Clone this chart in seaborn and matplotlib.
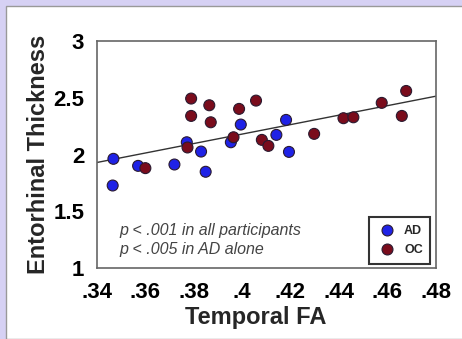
import numpy as np
import pandas as pd
import seaborn as sns
import matplotlib.pyplot as plt
from matplotlib.patches import Rectangle
from matplotlib.ticker import MultipleLocator, FuncFormatter

# values
ad_fa = [.3469, .3466, .3571, .3721, .3772, .3831, .3850, .3954, .3995, .4142, .4182, .4194]
ad_thick = [1.962, 1.727, 1.900, 1.912, 2.108, 2.026, 1.848, 2.108, 2.264, 2.173, 2.305, 2.023]
oc_fa = [.3601, .3775, .3790, .3790, .3865, .3871, .3965, .3988, .4058, .4082, .4109,
         .4298, .4419, .4460, .4577, .4660, .4678]
oc_thick = [1.880, 2.062, 2.493, 2.340, 2.434, 2.284, 2.152, 2.402, 2.475, 2.129, 2.076,
            2.182, 2.320, 2.328, 2.455, 2.340, 2.560]
x_ticks = [.34, .36, .38, .40, .42, .44, .46, .48]
y_ticks = [1, 1.5, 2, 2.5, 3]
notes = ["p < .001 in all participants", "p < .005 in AD alone"]

df = pd.DataFrame({
    "fa": ad_fa + oc_fa,
    "thick": ad_thick + oc_thick,
    "group": ["AD"] * len(ad_fa) + ["OC"] * len(oc_fa),
})

sns.set_style("white")
plt.rcParams['font.family'] = ['Liberation Sans', 'DejaVu Sans']

fig = plt.figure(figsize=(4.62, 3.39), dpi=100, facecolor="#d6d1f4")
# white panel behind the chart
fig.patches.append(Rectangle((6 / 462, 0), 1, 333 / 339, transform=fig.transFigure,
                             facecolor="white", edgecolor="#999999", lw=1, zorder=-5))
ax = fig.add_axes([0.2093, 0.2094, 0.7338, 0.6696])
ax.set_facecolor("white")

sns.regplot(data=df, x="fa", y="thick", scatter=False, ci=None, truncate=False,
            color="#333333", line_kws={"lw": 1.0}, ax=ax)
sns.scatterplot(data=df, x="fa", y="thick", hue="group",
                palette={"AD": "#1f22e6", "OC": "#7a0c1c"},
                s=62, edgecolor="#2a1a30", linewidth=0.8, ax=ax, zorder=3)

ax.set_xlim(.34, .48)
ax.set_ylim(1, 3)
ax.set_xticks(x_ticks)
ax.set_yticks(y_ticks)
ax.xaxis.set_minor_locator(MultipleLocator(.004))
ax.yaxis.set_minor_locator(MultipleLocator(.25))


def fmt_x(v, pos):
    s = ("%.2f" % v).rstrip("0")
    return s[1:] if s.startswith("0") else s


def fmt_y(v, pos):
    return ("%g" % v)


ax.xaxis.set_major_formatter(FuncFormatter(fmt_x))
ax.yaxis.set_major_formatter(FuncFormatter(fmt_y))
ax.tick_params(axis="both", which="both", direction="out", colors="#555555",
               labelcolor="black", labelsize=16, width=1)
ax.tick_params(axis="both", which="major", length=4, pad=6)
ax.tick_params(axis="both", which="minor", length=2.5)
ax.tick_params(axis="y", which="major", pad=5)
for lab in ax.get_xticklabels() + ax.get_yticklabels():
    lab.set_fontweight("bold")

for side, sp in ax.spines.items():
    sp.set_visible(True)
    sp.set_color("#666666")
    sp.set_linewidth(1.2)

ax.set_xlabel("Temporal FA", fontsize=17, fontweight="bold", labelpad=2, x=0.47)
ax.set_ylabel("Entorhinal Thickness", fontsize=17, fontweight="bold", labelpad=2)

ax.text(.3492, 1.33, notes[0], fontsize=11.5, style="italic", color="#444444", va="center")
ax.text(.3492, 1.165, notes[1], fontsize=11.5, style="italic", color="#444444", va="center")

leg = ax.legend(loc="lower right", frameon=True, fancybox=False, fontsize=9,
                handletextpad=0.6, borderpad=0.6, borderaxespad=0, labelspacing=0.6,
                handlelength=1.6, bbox_to_anchor=(0.984, 0.018), markerscale=1.0)
leg.get_frame().set_edgecolor("black")
leg.get_frame().set_linewidth(1.5)
for t in leg.get_texts():
    t.set_fontweight("bold")

fig.savefig("out.png", dpi=100, facecolor=fig.get_facecolor())
